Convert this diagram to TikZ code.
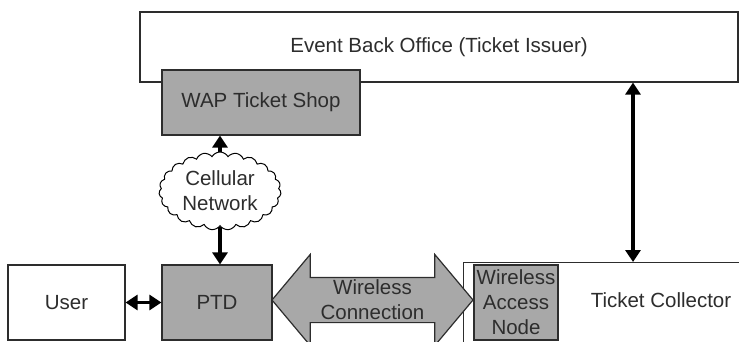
\documentclass[tikz,border=0pt]{standalone}
\usepackage{fontspec}
\setmainfont{Liberation Sans}
\usetikzlibrary{shapes.symbols,shapes.arrows,arrows.meta}

\definecolor{boxgray}{RGB}{168,168,168}
\definecolor{inkgray}{RGB}{45,45,45}

\begin{document}
\begin{tikzpicture}
      [ x=1pt, y=-1pt,
        every node/.style={font=\fontsize{20.5}{25}\selectfont, text=inkgray, align=center},
        party/.style={draw=inkgray, line width=1.2pt, rectangle, fill=white, inner sep=0pt},
        device/.style={party, fill=boxgray},
        link/.style={line width=3.4pt, draw=black, {Triangle[length=12pt,width=15pt]}-{Triangle[length=12pt,width=15pt]}},
        uplink/.style={line width=3.4pt, draw=black, -{Triangle[length=12pt,width=15pt]}}
      ]
      \useasboundingbox (0,0) rectangle (739,342);
      \clip (0,0) rectangle (739,342);

      \node[party]  (office)  at (439,47)    [minimum width=598pt, minimum height=70pt] {Event Back Office (Ticket Issuer)};
      \node[device] (shop)    at (261,102.5) [minimum width=198pt, minimum height=65pt] {WAP Ticket Shop};
      \node[party]  (user)    at (66.5,302.5) [minimum width=117pt, minimum height=75pt] {User};
      \node[device] (ptd)     at (217,302.5) [minimum width=110pt, minimum height=75pt] {PTD};
      \node[party]  (collector) [anchor=north west, minimum width=300pt, minimum height=100pt] at (463,262) {};
      \node         (colname) at (661,300)   {Ticket Collector};
      \node[device] (access)  at (516,302.5) [minimum width=84pt, minimum height=75pt] {Wireless\\Access\\Node};
      \node[cloud, draw=black, line width=1pt, fill=white, cloud puffs=23, cloud puff arc=120,
            aspect=1.6, inner sep=0pt, minimum width=122pt, minimum height=78pt]
                    (cellnet) at (220,191) {Cellular\\Network};
      \node[double arrow, draw=inkgray, line width=1.2pt, fill=boxgray, inner sep=0pt,
            minimum height=201pt, double arrow head extend=23pt,
            double arrow tip angle=100,
            label={[align=center]center:Wireless\\Connection}]
                    (wireless) at (372.5,300) {\rule[-22pt]{0pt}{44pt}};
      \coordinate   (backbone) at (633,0);

      \path[uplink] (cellnet.north) -- (cellnet.north |- shop.south);
      \path[uplink] (cellnet.south) -- (cellnet.south |- ptd.north);
      \path[link]   (user.east) -- (ptd.west |- user.east);
      \path[link]   (office.south -| backbone) -- (collector.north -| backbone);

\end{tikzpicture}
\end{document}
